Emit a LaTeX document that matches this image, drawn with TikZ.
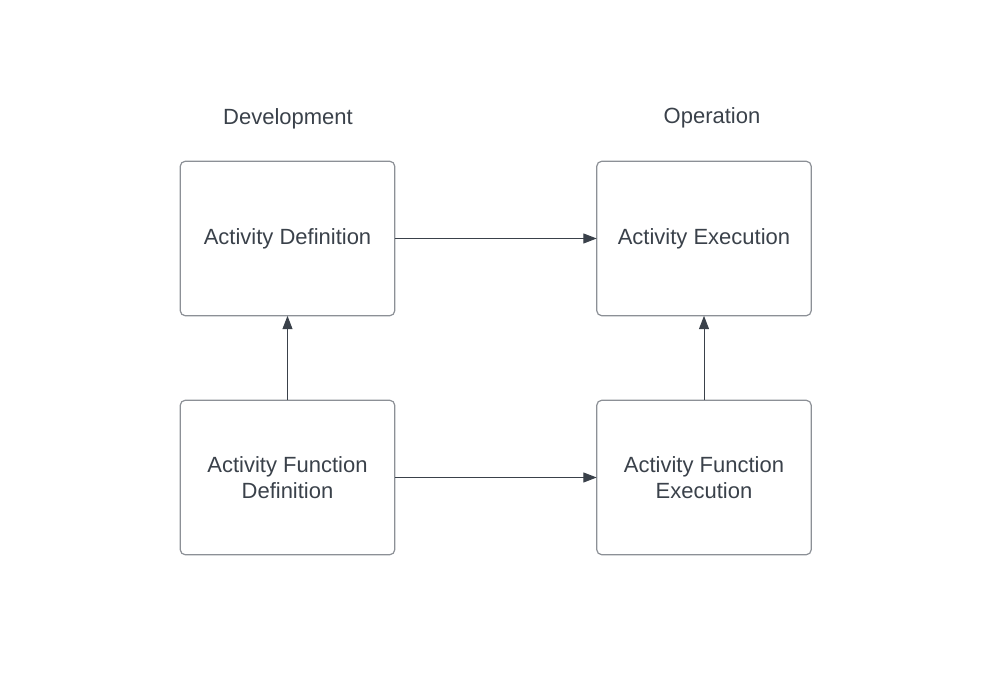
\documentclass[tikz,border=0pt]{standalone}
\usepackage{fontspec}
\setmainfont{Liberation Sans}
\usetikzlibrary{arrows.meta}
\definecolor{inkdark}{HTML}{3A414A}
\definecolor{boxline}{HTML}{8C9096}
\tikzset{
  stagebox/.style={draw=boxline, line width=0.9pt, rounded corners=4pt,
    minimum width=161pt, minimum height=116pt, inner sep=0pt, outer sep=0pt,
    align=center, text=inkdark, font=\fontsize{16.5}{20}\selectfont},
  phase/.style={text=inkdark, font=\fontsize{16.5}{20}\selectfont},
  flow/.style={draw=inkdark, line width=0.75pt,
    -{Triangle[length=10pt,width=7.5pt]}}
}
\begin{document}
\begin{tikzpicture}[x=0.75pt, y=-0.75pt]
  \useasboundingbox (0,0) rectangle (1000,680);

  % column headings
  \node[phase] (dev) at (288,119) {Development};
  \node[phase] (ops) at (712,117.5) {Operation};

  % boxes
  \node[stagebox] (actdef) at (287.5,238.5) {Activity Definition};
  \node[stagebox] (actexe) at (704,238.5) {Activity Execution};
  \node[stagebox] (fundef) at (287.5,477.5) {Activity Function\\Definition};
  \node[stagebox] (funexe) at (704,477.5) {Activity Function\\Execution};

  % connectors
  \draw[flow] (actdef) -- (actexe);
  \draw[flow] (fundef) -- (funexe);
  \draw[flow] (fundef) -- (actdef);
  \draw[flow] (funexe) -- (actexe);
\end{tikzpicture}
\end{document}
